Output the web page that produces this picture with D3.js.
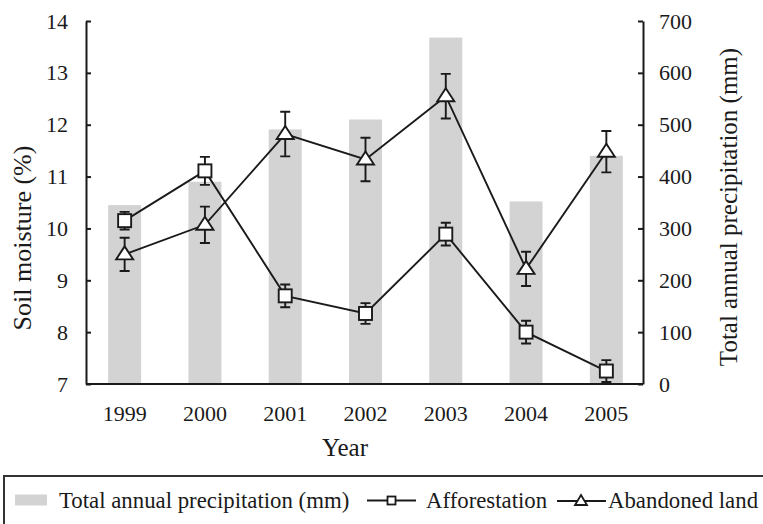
<!DOCTYPE html>
<html>
<head>
<meta charset="utf-8">
<script src="https://cdn.jsdelivr.net/npm/d3@7/dist/d3.min.js"></script>
<style>
  html, body { margin: 0; padding: 0; background: #fff; }
  svg { display: block; }
  text { font-family: "Liberation Serif", "Times New Roman", serif; fill: #1a1a1a; }
</style>
</head>
<body>
<svg id="chart" width="763" height="524"></svg>
<script>
const years = ["1999", "2000", "2001", "2002", "2003", "2004", "2005"];
const precipitation = [345, 390, 491, 510, 668, 352, 440];
const afforestation = [10.15, 11.11, 8.70, 8.36, 9.89, 8.00, 7.25];
const afforestationErr = [0.17, 0.27, 0.22, 0.20, 0.22, 0.22, 0.21];
const abandoned = [9.50, 10.07, 11.82, 11.33, 12.55, 9.22, 11.48];
const abandonedErr = [0.32, 0.35, 0.43, 0.42, 0.43, 0.33, 0.40];
const leftTicks = [7, 8, 9, 10, 11, 12, 13, 14];
const rightTicks = [0, 100, 200, 300, 400, 500, 600, 700];

const svg = d3.select("#chart");
const ink = "#1a1a1a";
const plotL = 86, plotR = 643, plotT = 21, plotB = 384;

const x = d3.scaleBand().domain(years).range([84.5, 646.5]).padding(0);
const yL = d3.scaleLinear().domain([7, 14]).range([plotB, plotT]);
const yR = d3.scaleLinear().domain([0, 700]).range([plotB, plotT]);
const barW = 33;
const cx = d => x(d) + x.bandwidth() / 2;

// bars
svg.append("g").selectAll("rect").data(years).join("rect")
  .attr("x", d => cx(d) - barW / 2)
  .attr("width", barW)
  .attr("y", (d, i) => yR(precipitation[i]))
  .attr("height", (d, i) => plotB - yR(precipitation[i]))
  .attr("fill", "#d3d3d3");

// axes
const axL = d3.axisLeft(yL).tickValues(leftTicks).tickFormat(d3.format("d"))
  .tickSizeInner(-5).tickSizeOuter(0).tickPadding(18);
const gL = svg.append("g").attr("transform", `translate(${plotL},0)`).call(axL);
const axR = d3.axisRight(yR).tickValues(rightTicks).tickFormat(d3.format("d"))
  .tickSizeInner(-5).tickSizeOuter(0).tickPadding(16);
const gR = svg.append("g").attr("transform", `translate(${plotR},0)`).call(axR);
[gL, gR].forEach(g => {
  g.select(".domain").attr("stroke", ink).attr("stroke-width", 2);
  g.selectAll(".tick line").attr("stroke", ink).attr("stroke-width", 2);
  g.selectAll(".tick text").attr("fill", ink).style("font-size", "22px")
    .style("font-family", '"Liberation Serif", serif');
});

// bottom axis line
const axB = d3.axisBottom(x).tickSize(0).tickPadding(0);
const gB = svg.append("g").attr("transform", `translate(0,${plotB})`).call(axB);
gB.select(".domain").attr("d", `M${plotL},0H${plotR}`).attr("stroke", ink).attr("stroke-width", 2);
gB.selectAll(".tick text").attr("fill", ink).attr("y", 36.5).attr("dy", 0)
  .style("font-size", "22px").style("font-family", '"Liberation Serif", serif');

// titles
svg.append("text").attr("x", 345).attr("y", 456).attr("text-anchor", "middle")
  .style("font-size", "25px").text("Year");
svg.append("text").attr("transform", "translate(31,238) rotate(-90)")
  .attr("text-anchor", "middle").style("font-size", "26px").text("Soil moisture (%)");
svg.append("text").attr("transform", "translate(737,207) rotate(-90)")
  .attr("text-anchor", "middle").style("font-size", "25px").text("Total annual precipitation (mm)");

// series
const line = d3.line();
function drawSeries(vals, errs, shape) {
  const pts = years.map((d, i) => [cx(d), yL(vals[i])]);
  svg.append("path").attr("d", line(pts)).attr("fill", "none")
    .attr("stroke", ink).attr("stroke-width", 1.9);
  const g = svg.append("g");
  years.forEach((d, i) => {
    const px = cx(d), top = yL(vals[i] + errs[i]), bot = yL(vals[i] - errs[i]);
    g.append("path").attr("d", `M${px},${top}V${bot}M${px - 5},${top}H${px + 5}M${px - 5},${bot}H${px + 5}`)
      .attr("stroke", ink).attr("stroke-width", 1.9).attr("fill", "none");
  });
  years.forEach((d, i) => {
    const px = cx(d), py = yL(vals[i]);
    if (shape === "square") {
      g.append("rect").attr("x", px - 6.5).attr("y", py - 6.5).attr("width", 13).attr("height", 13)
        .attr("fill", "#fff").attr("stroke", ink).attr("stroke-width", 1.9);
    } else {
      g.append("path").attr("d", `M${px},${py - 8}L${px + 8.5},${py + 5}L${px - 8.5},${py + 5}Z`)
        .attr("fill", "#fff").attr("stroke", ink).attr("stroke-width", 1.9);
    }
  });
}
drawSeries(afforestation, afforestationErr, "square");
drawSeries(abandoned, abandonedErr, "triangle");

// legend
const lg = svg.append("g");
lg.append("rect").attr("x", 4).attr("y", 476).attr("width", 780).attr("height", 80)
  .attr("fill", "none").attr("stroke", "#333").attr("stroke-width", 2);
lg.append("rect").attr("x", 15).attr("y", 494.5).attr("width", 32).attr("height", 11).attr("fill", "#d3d3d3");
lg.append("text").attr("x", 59).attr("y", 507.5).style("font-size", "22.8px").text("Total annual precipitation (mm)");
lg.append("path").attr("d", "M367,500.5H416").attr("stroke", ink).attr("stroke-width", 1.8);
lg.append("rect").attr("x", 387.5).attr("y", 496.5).attr("width", 8).attr("height", 8)
  .attr("fill", "#fff").attr("stroke", ink).attr("stroke-width", 1.8);
lg.append("text").attr("x", 426).attr("y", 507.5).style("font-size", "22.8px").text("Afforestation");
lg.append("path").attr("d", "M557,501H606").attr("stroke", ink).attr("stroke-width", 1.8);
lg.append("path").attr("d", "M581,495L587,505L575,505Z").attr("fill", "#fff").attr("stroke", ink).attr("stroke-width", 1.8);
lg.append("text").attr("x", 608).attr("y", 507.5).style("font-size", "22.8px").text("Abandoned land");
</script>
</body>
</html>
